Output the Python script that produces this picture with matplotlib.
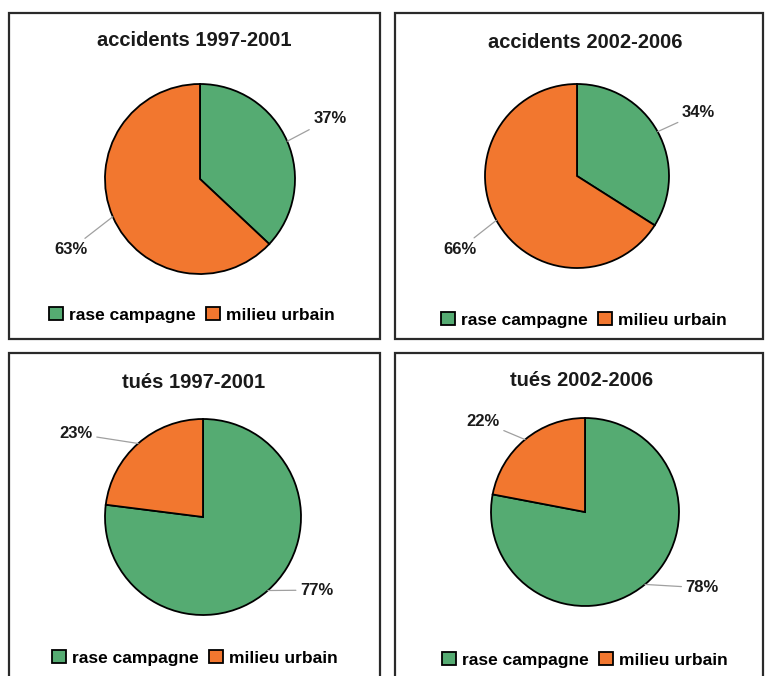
import math
import matplotlib
matplotlib.use('Agg')
import matplotlib.pyplot as plt
from matplotlib.patches import Rectangle

titles = ['accidents 1997-2001', 'accidents 2002-2006', 'tués 1997-2001', 'tués 2002-2006']
categories = ['rase campagne', 'milieu urbain']
rase_campagne = [37, 34, 77, 78]
milieu_urbain = [63, 66, 23, 22]

colors = ['#55ab72', '#f2772f']

W, H = 765, 676

# layout in pixels of the picture: box, pie centre, radius, title and legend centres,
# label placement as (angle shift from wedge middle in degrees, distance in radii)
panels = [
    dict(box=(9, 13, 380, 339), center=(200, 179), r=95, title=(194, 41), legend=(192, 315),
         labels=[(4.6, 1.35), (8.6, 1.40)]),
    dict(box=(395, 13, 763, 339), center=(577, 176), r=92, title=(585, 42), legend=(584, 320),
         labels=[(2.2, 1.33), (7.2, 1.35)]),
    dict(box=(9, 353, 380, 700), center=(203, 517), r=98, title=(194, 382), legend=(195, 658),
         labels=[(11.6, 1.24), (11.6, 1.41)]),
    dict(box=(395, 353, 763, 700), center=(585, 512), r=94, title=(582, 380), legend=(585, 660),
         labels=[(13.4, 1.34), (3.8, 1.32)]),
]

title_font = dict(family=['Liberation Sans', 'DejaVu Sans'], weight='bold', size=14.5)
label_font = dict(family=['Liberation Sans', 'DejaVu Sans'], weight='bold', size=12)
legend_font = dict(family=['Liberation Sans', 'DejaVu Sans'], weight='bold', size=12.5)


def fx(x):
    return x / W


def fy(y):
    return 1 - y / H


def main():
    fig = plt.figure(figsize=(W / 100, H / 100), dpi=100, facecolor='white')

    for i, p in enumerate(panels):
        x0, y0, x1, y1 = p['box']
        fig.patches.append(Rectangle((fx(x0), fy(y1)), (x1 - x0) / W, (y1 - y0) / H,
                                     transform=fig.transFigure, fill=False,
                                     edgecolor='#2a2a2a', linewidth=1.6))

        fig.text(fx(p['title'][0]), fy(p['title'][1]), titles[i], ha='center', va='center',
                 color='#1a1a1a', **title_font)

        cx, cy = p['center']
        r = p['r']
        ax = fig.add_axes([fx(cx - r), fy(cy + r), 2 * r / W, 2 * r / H])
        vals = [rase_campagne[i], milieu_urbain[i]]
        wedges, _ = ax.pie(vals, colors=colors, startangle=90, counterclock=False, radius=1,
                           wedgeprops=dict(edgecolor='black', linewidth=1.3))
        ax.set_xlim(-1, 1)
        ax.set_ylim(-1, 1)
        ax.set_aspect('equal')
        ax.axis('off')

        for w, v, (shift, dist) in zip(wedges, vals, p['labels']):
            w.set_clip_on(False)
            mid = math.radians((w.theta1 + w.theta2) / 2)
            ang = mid + math.radians(shift)
            tx, ty = dist * math.cos(ang), dist * math.sin(ang)
            ha = 'left' if math.cos(ang) > 0 else 'right'
            ax.annotate(f'{v}%', xy=(math.cos(mid), math.sin(mid)), xytext=(tx, ty),
                        ha=ha, va='center', color='#1a1a1a', annotation_clip=False,
                        arrowprops=dict(arrowstyle='-', color='#a0a0a0', lw=0.9,
                                        shrinkA=1, shrinkB=0),
                        **label_font)

        fig.legend(wedges, categories, loc='center',
                   bbox_to_anchor=(fx(p['legend'][0]), fy(p['legend'][1])),
                   ncol=2, frameon=False, prop=legend_font, handlelength=0.8,
                   handleheight=0.8, handletextpad=0.35, columnspacing=0.6,
                   borderpad=0, borderaxespad=0)

    fig.savefig('out.png', dpi=100, facecolor='white')


if __name__ == '__main__':
    main()
